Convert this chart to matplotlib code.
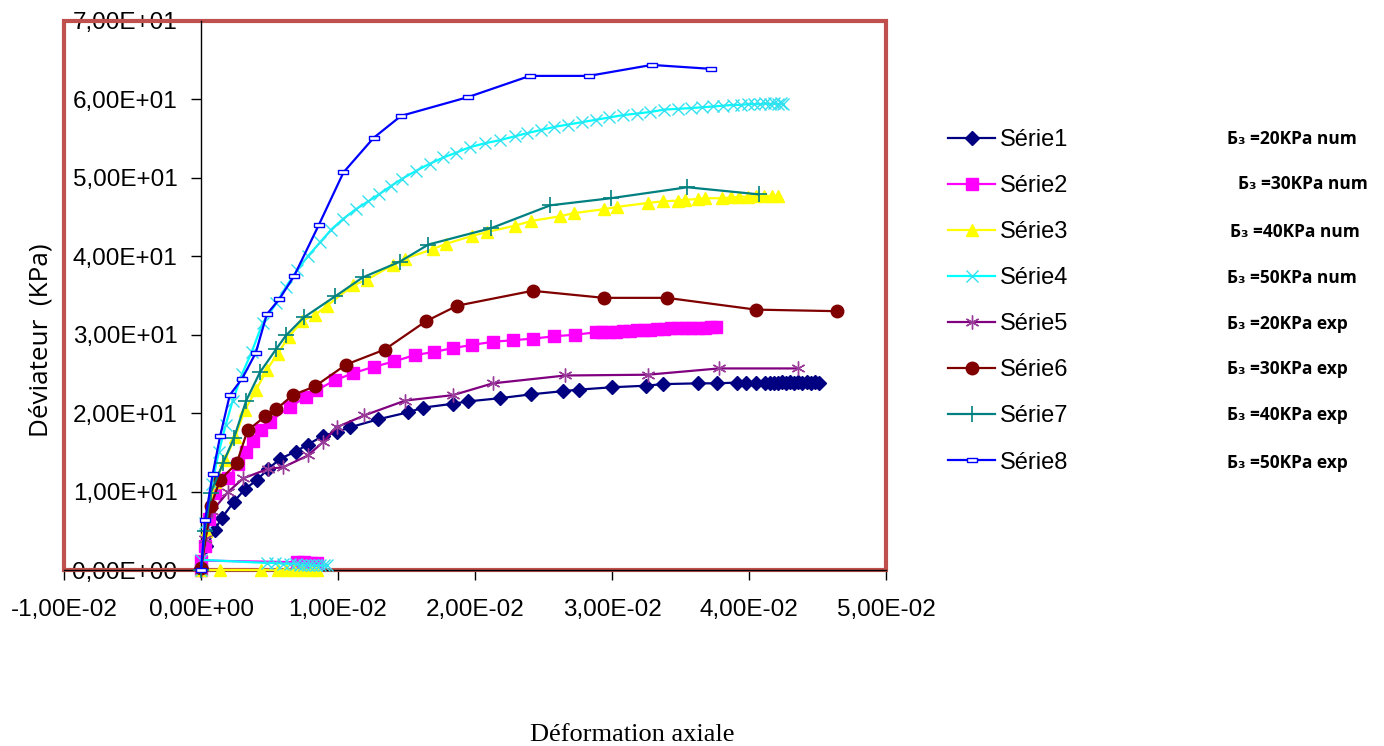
import numpy as np
import matplotlib
matplotlib.use("Agg")
import matplotlib.pyplot as plt
from matplotlib.patches import Rectangle

# Série1 - num 20 KPa
x1 = [0.0, 0.0004, 0.001, 0.0015, 0.0024, 0.0032, 0.0041, 0.0049, 0.0058, 0.0069, 0.0078, 0.0089,
      0.0099, 0.0109, 0.0129, 0.0151, 0.0162, 0.0184, 0.0195, 0.0218, 0.0241, 0.0264, 0.0276, 0.0300,
      0.0325, 0.0337, 0.0363, 0.0377, 0.0391, 0.0398, 0.0405, 0.0412, 0.0415, 0.0418, 0.0421, 0.0424,
      0.0427, 0.0430, 0.0433, 0.0436, 0.0439, 0.0442, 0.0445, 0.0448, 0.0451]
y1 = [0.3, 3.0, 5.1, 6.6, 8.7, 10.3, 11.5, 12.9, 14.2, 15.1, 16.0, 17.1,
      17.6, 18.2, 19.2, 20.1, 20.7, 21.2, 21.5, 21.9, 22.4, 22.8, 23.0, 23.3,
      23.5, 23.7, 23.8, 23.8, 23.9, 23.9, 23.9, 23.9, 23.9, 23.9, 23.9, 24.0,
      23.9, 24.0, 23.9, 24.0, 23.9, 24.0, 23.9, 24.0, 23.9]

# Série2 - num 30 KPa
x2 = [0.0085, 0.008, 0.0075, 0.007, 0.0, 0.0, 0.0003, 0.0006, 0.001, 0.002, 0.0027, 0.0033, 0.0038,
      0.0044, 0.005, 0.0065, 0.0077, 0.0084, 0.0098, 0.0111, 0.0126, 0.0141, 0.0156, 0.017, 0.0184,
      0.0198, 0.0213, 0.0228, 0.0242, 0.0258, 0.0273, 0.0288, 0.0293, 0.0298, 0.0303, 0.0308, 0.0313,
      0.0318, 0.0323, 0.0328, 0.0333, 0.0338, 0.0343, 0.0348, 0.0353, 0.0358, 0.0363, 0.0368, 0.0372,
      0.0376]
y2 = [0.9, 0.9, 1.0, 1.0, 1.2, 0.0, 3.0, 6.5, 9.8, 11.7, 13.5, 15.1, 16.5,
      17.8, 18.9, 20.8, 22.1, 22.9, 24.2, 25.1, 25.9, 26.6, 27.4, 27.8, 28.3,
      28.7, 29.1, 29.3, 29.5, 29.8, 30.0, 30.3, 30.3, 30.4, 30.4, 30.5, 30.5,
      30.6, 30.6, 30.6, 30.7, 30.7, 30.8, 30.8, 30.8, 30.9, 30.9, 30.9, 31.0,
      31.0]

# Série3 - num 40 KPa
x3 = [0.0085, 0.008, 0.0074, 0.0068, 0.0062, 0.0056, 0.0044, 0.0014, 0.0, 0.0004, 0.001, 0.00175,
      0.0025, 0.0032, 0.0040, 0.0048, 0.0056, 0.0064, 0.0074, 0.0083, 0.0092, 0.0111, 0.0121, 0.014,
      0.0149, 0.0169, 0.0179, 0.0198, 0.0209, 0.0229, 0.0241, 0.0262, 0.0272, 0.0294, 0.0304, 0.0326,
      0.0337, 0.0348, 0.0353, 0.0363, 0.0368, 0.038, 0.0387, 0.0393, 0.0399, 0.0405, 0.0411, 0.0417,
      0.0421]
y3 = [0.0, 0.0, 0.0, 0.0, 0.0, 0.0, 0.0, 0.0, 0.0, 5.0, 11.2, 14.0,
      17.0, 20.4, 22.9, 25.5, 27.6, 29.7, 31.8, 32.5, 33.7, 36.3, 37.0, 38.9,
      39.7, 40.9, 41.6, 42.6, 43.1, 43.9, 44.5, 45.1, 45.5, 46.0, 46.3, 46.8,
      47.0, 47.1, 47.2, 47.3, 47.4, 47.4, 47.5, 47.6, 47.6, 47.7, 47.7, 47.7,
      47.7]

# Série4 - num 50 KPa
x4 = [0.0092, 0.009, 0.0087, 0.0084, 0.0081, 0.0078, 0.0075, 0.0072, 0.0069, 0.0065, 0.006, 0.0054,
      0.0048, 0.0, 0.0, 0.0003, 0.0008, 0.0013, 0.0018, 0.0023, 0.0030, 0.0037, 0.0045, 0.0055,
      0.0062, 0.0070, 0.0078, 0.0087, 0.0095, 0.0104, 0.0113, 0.0122, 0.0130, 0.0139, 0.0147, 0.0157,
      0.0167, 0.0177, 0.0186, 0.0196, 0.0207, 0.0218, 0.0229, 0.0238, 0.0248, 0.0258, 0.0268, 0.0278,
      0.0288, 0.0298, 0.0308, 0.0318, 0.0328, 0.0338, 0.0348, 0.0358, 0.0366, 0.0374, 0.0381, 0.0388,
      0.0394, 0.0399, 0.0404, 0.0408, 0.0412, 0.0415, 0.0418, 0.0421, 0.0423, 0.0425]
y4 = [0.6, 0.6, 0.6, 0.6, 0.7, 0.7, 0.7, 0.7, 0.8, 0.8, 0.8, 0.9,
      0.9, 1.3, 0.0, 6.0, 11.0, 15.0, 18.5, 21.5, 25.0, 27.8, 31.5, 34.0,
      36.1, 38.2, 40.0, 41.8, 43.4, 44.8, 46.0, 47.0, 47.9, 49.0, 49.9, 50.9,
      51.8, 52.6, 53.2, 53.9, 54.4, 54.8, 55.3, 55.7, 56.1, 56.5, 56.8, 57.1,
      57.4, 57.7, 58.0, 58.2, 58.4, 58.7, 58.8, 58.9, 59.0, 59.1, 59.2, 59.3,
      59.3, 59.4, 59.4, 59.4, 59.5, 59.4, 59.5, 59.4, 59.5, 59.4]

# Série5 - exp 20 KPa
x5 = [0.0, 0.0003, 0.0008, 0.002, 0.0031, 0.0049, 0.006, 0.0078, 0.0089, 0.0099, 0.0119, 0.0149,
      0.0184, 0.0213, 0.0266, 0.0326, 0.0378, 0.0436]
y5 = [0.0, 4.0, 7.5, 10.0, 11.7, 12.9, 13.1, 14.6, 16.3, 18.2, 19.7, 21.6,
      22.3, 23.8, 24.8, 24.9, 25.7, 25.7]

# Série6 - exp 30 KPa
x6 = [0.0, 0.0007, 0.0014, 0.0026, 0.0034, 0.0047, 0.0055, 0.0067, 0.0083, 0.0106, 0.0134, 0.0164,
      0.0187, 0.0242, 0.0294, 0.034, 0.0405, 0.0464]
y6 = [0.2, 8.1, 11.5, 13.6, 17.8, 19.6, 20.5, 22.3, 23.4, 26.2, 28.1, 31.7,
      33.7, 35.6, 34.7, 34.7, 33.2, 33.0]

# Série7 - exp 40 KPa
x7 = [0.0, 0.0003, 0.0007, 0.0016, 0.0024, 0.0033, 0.0043, 0.0055, 0.0062, 0.0075, 0.0098, 0.0118,
      0.0145, 0.0166, 0.0212, 0.0255, 0.0299, 0.0355, 0.0407]
y7 = [0.0, 5.0, 9.8, 13.6, 16.8, 21.6, 25.2, 28.2, 29.9, 32.2, 34.9, 37.3,
      39.3, 41.5, 43.6, 46.5, 47.4, 48.8, 47.9]

# Série8 - exp 50 KPa
x8 = [0.0, 0.0003, 0.00085, 0.0014, 0.0021, 0.003, 0.004, 0.0048, 0.0057, 0.0068, 0.0086, 0.0104,
      0.0126, 0.0146, 0.0195, 0.0240, 0.0283, 0.0329, 0.0372]
y8 = [0.0, 6.4, 12.2, 17.1, 22.3, 24.4, 27.7, 32.6, 34.5, 37.5, 44.0, 50.7,
      55.1, 57.9, 60.3, 63.0, 63.0, 64.4, 63.9]

series_names = ["Série1", "Série2", "Série3", "Série4", "Série5", "Série6", "Série7", "Série8"]
notes = ["Б₃ =20KPa num", "Б₃ =30KPa num", "Б₃ =40KPa num", "Б₃ =50KPa num",
         "Б₃ =20KPa exp", "Б₃ =30KPa exp", "Б₃ =40KPa exp", "Б₃ =50KPa exp"]

x_ticks = [-0.01, 0.0, 0.01, 0.02, 0.03, 0.04, 0.05]
x_tick_labels = ["-1,00E-02", "0,00E+00", "1,00E-02", "2,00E-02", "3,00E-02", "4,00E-02", "5,00E-02"]
y_ticks = [0, 10, 20, 30, 40, 50, 60, 70]
y_tick_labels = ["0,00E+00", "1,00E+01", "2,00E+01", "3,00E+01", "4,00E+01", "5,00E+01",
                 "6,00E+01", "7,00E+01"]

# small hollow bar marker used by Excel for Série8
dash = [(-1, -0.4), (1, -0.4), (1, 0.4), (-1, 0.4), (-1, -0.4)]

styles = [
    dict(color="#000080", marker="D", ms=7, mfc="#000080", mec="#000080"),
    dict(color="#FF00FF", marker="s", ms=8, mfc="#FF00FF", mec="#FF00FF"),
    dict(color="#FFFF00", marker="^", ms=9, mfc="#FFFF00", mec="#FFFF00"),
    dict(color="#00FFFF", marker="x", ms=9, mew=1.0, mec="#33E0F0"),
    dict(color="#800080", marker=(6, 2, 0), ms=10, mew=1.0, mec="#9A3C9A"),
    dict(color="#800000", marker="o", ms=9, mfc="#800000", mec="#800000"),
    dict(color="#008080", marker="+", ms=11, mew=1.2),
    dict(color="#0000FF", marker=dash, ms=7, mfc="white", mec="#0000FF", mew=1.0),
]

xs = [x1, x2, x3, x4, x5, x6, x7, x8]
ys = [y1, y2, y3, y4, y5, y6, y7, y8]

plt.rcParams["font.family"] = ["Liberation Sans", "DejaVu Sans"]

fig = plt.figure(figsize=(13.84, 7.46), dpi=100)
ax = fig.add_axes([64 / 1384, 1 - 570 / 746, (886 - 64) / 1384, (570 - 21) / 746])

handles = []
for i in range(8):
    h, = ax.plot(xs[i], ys[i], lw=1.6, clip_on=False, zorder=3 + i, **styles[i])
    handles.append(h)

ax.set_xlim(-0.01, 0.05)
ax.set_ylim(0, 70)
ax.set_xticks(x_ticks)
ax.set_xticklabels(x_tick_labels)
ax.set_yticks(y_ticks)
ax.set_yticklabels(y_tick_labels)
ax.tick_params(axis="both", direction="out", length=7, width=1, labelsize=17.5, colors="black")
ax.tick_params(axis="x", pad=14)
ax.tick_params(axis="y", pad=10)

# axes cross at zero like in Excel
ax.spines["left"].set_position(("data", 0))
ax.spines["top"].set_visible(False)
ax.spines["right"].set_visible(False)
for s in ["left", "bottom"]:
    ax.spines[s].set_linewidth(1.0)
    ax.spines[s].set_zorder(2.5)

# red plot-area frame
ax.add_patch(Rectangle((0, 0), 1, 1, transform=ax.transAxes, fill=False,
                       edgecolor="#C0504D", lw=3, zorder=2, clip_on=False))

fig.text(41.5 / 1384, 1 - 340 / 746, "Déviateur  (KPa)", rotation=90, fontsize=18.8,
         family=["Open Sans", "DejaVu Sans"], ha="center", va="center")
fig.text(632 / 1384, 1 - 735 / 746, "Déformation axiale", fontsize=19,
         family="Liberation Serif", ha="center", va="center")

fig.legend(handles, series_names, loc="upper left", bbox_to_anchor=(948 / 1384, 1 - 129 / 746),
           frameon=False, fontsize=17, handlelength=2.0, handletextpad=0.2,
           labelspacing=1.02, borderpad=0, borderaxespad=0)

note_pos = [(1227, 139), (1238, 184), (1230, 232), (1227, 278),
            (1227, 324), (1227, 369), (1227, 415), (1227, 463)]
for (px, py), txt in zip(note_pos, notes):
    fig.text(px / 1384, 1 - py / 746, txt, fontsize=12.5, fontweight="bold",
             family=["Open Sans", "DejaVu Sans"], ha="left", va="center")

fig.savefig("out.png", dpi=100)
